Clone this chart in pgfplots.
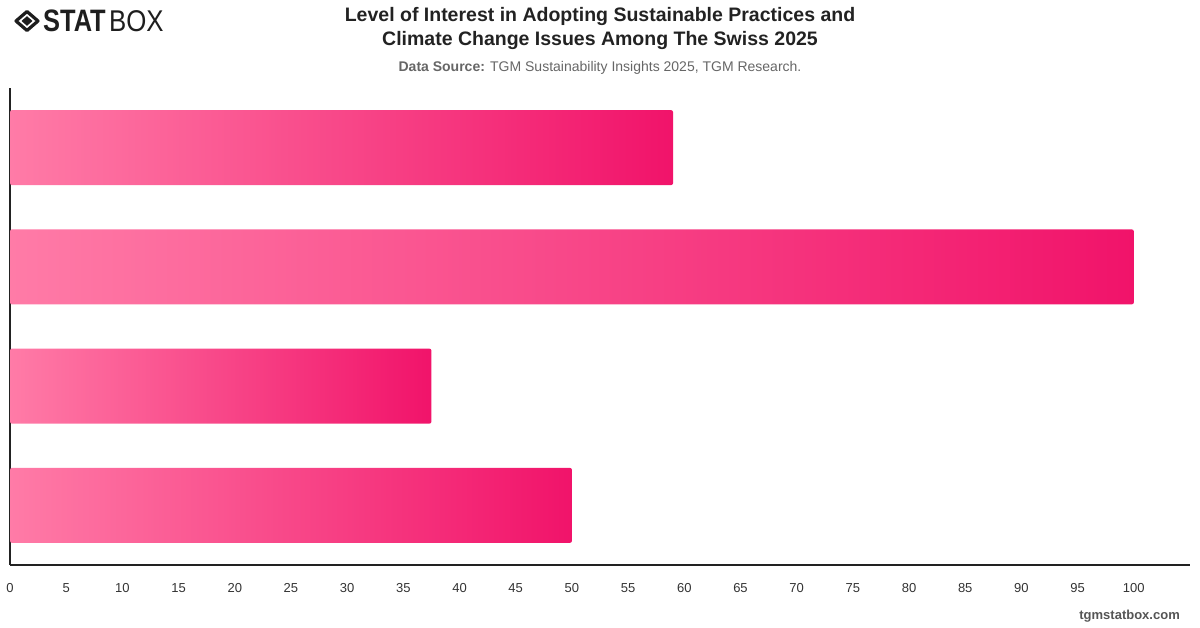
\documentclass[border=0pt]{standalone}
\usepackage{pgfplots}
\pgfplotsset{compat=1.18}
\usepackage{fontspec}
\setmainfont{Liberation Sans}
\definecolor{barlight}{HTML}{FF7BA7}
\definecolor{bardark}{HTML}{F1136A}
\definecolor{axisdark}{HTML}{222222}
\definecolor{ticktext}{HTML}{333333}
\definecolor{subgray}{HTML}{666666}
\definecolor{markgray}{HTML}{555555}
\definecolor{logoink}{HTML}{1E1E1E}

\begin{document}
\begin{tikzpicture}
\path[use as bounding box] (0,0) rectangle (1200bp,628bp);

% brand mark
\begin{scope}[shift={(27bp,607bp)}]
  \draw[logoink, line width=3.2bp, line join=round]
    (-11bp,0) -- (0,9.5bp) -- (11bp,0) -- (0,-9.5bp) -- cycle;
  \fill[logoink] (-5.5bp,0) -- (0,4.8bp) -- (5.5bp,0) -- (0,-4.8bp) -- cycle;
\end{scope}
\node[anchor=west, inner sep=0pt, xscale=0.82, text=logoink]
  at (43bp,607bp) {\fontsize{31bp}{31bp}\selectfont\textbf{STAT}};
\node[anchor=west, inner sep=0pt, xscale=0.86, text=logoink]
  at (109bp,607bp) {\fontsize{30bp}{30bp}\selectfont BOX};

% titles
\node[text=axisdark, align=center, inner sep=0pt,
      font=\fontsize{19.5bp}{24bp}\selectfont\bfseries] at (600bp,599bp)
  {Level of Interest in Adopting Sustainable Practices and\\
   Climate Change Issues Among The Swiss 2025};
\node[text=subgray, inner sep=0pt, font=\fontsize{14bp}{16bp}\selectfont] at (600bp,560bp)
  {\textbf{Data Source:} TGM Sustainability Insights 2025, TGM Research.};

\begin{axis}[
  at={(10bp,63bp)}, anchor=south west,
  scale only axis, width=1180bp, height=477bp,
  xmin=0, xmax=105, ymin=-0.5, ymax=3.5,
  y dir=reverse,
  axis x line*=bottom, axis y line*=left,
  axis line style={axisdark, line width=1.3bp, -},
  xtick={0,5,...,100}, ytick=\empty,
  major tick length=0pt,
  xticklabel style={text=ticktext, font=\fontsize{13bp}{15bp}\selectfont, yshift=-15bp},
  /pgf/number format/assume math mode=true,
  clip=false,
  no markers,
  cycle list={{draw=none}},
  every axis plot/.append style={xbar, bar width=75bp, bar shift=0pt, draw=none,
    rounded corners=2bp, left color=barlight, right color=bardark},
]
% one plot per bar so that each bar carries its own gradient
\addplot coordinates {(59,0)};
\addplot coordinates {(100,1)};
\addplot coordinates {(37.5,2)};
\addplot coordinates {(50,3)};
\end{axis}

\node[anchor=east, text=markgray, inner sep=0pt] at (1180bp,12bp)
  {\fontsize{13bp}{15bp}\selectfont\bfseries tgmstatbox.com};
\end{tikzpicture}
\end{document}
